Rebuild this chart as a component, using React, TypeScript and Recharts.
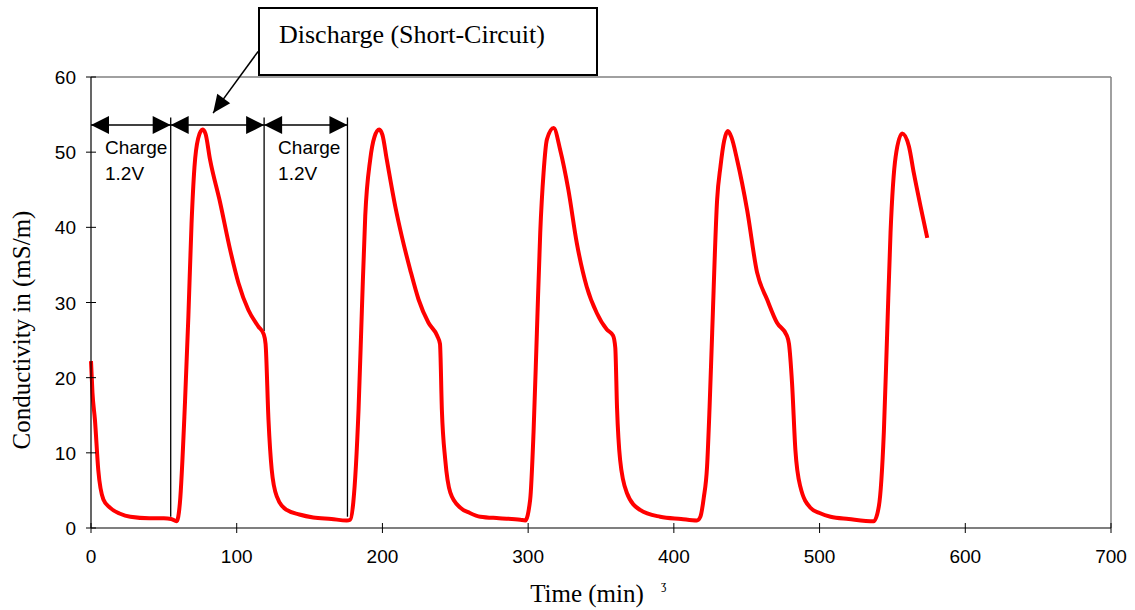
import React from "react";
import { ComposedChart, Line, XAxis, YAxis, ReferenceLine } from "recharts";

// ---- data (time in minutes, conductivity in mS/m) ----
const timeMin: number[] = [
  0, 1, 2.7, 5, 8.5, 13, 20, 27, 40, 50, 55, 58.8, 61, 64.5, 66.8, 69, 71, 73.5, 76.5, 78.5,
  81.7, 88.6, 95.5, 101.2, 108, 114.9, 118.5, 119.8, 121.8, 124, 127.5, 134.3, 143, 152.5, 165, 175.5,
  177.9, 180, 183.6, 185.9, 188.2, 191.6, 194.5, 197.8, 200, 203, 208.8, 213.3, 219, 224.8, 231.6,
  237.5, 239.5, 240.8, 243.1, 246.6, 253.4, 260, 267.2, 280, 294.6, 298, 301.4, 303.7, 306, 308.3,
  310.6, 312.9, 317.5, 322, 327.6, 333.4, 340.2, 347.1, 354, 358.3, 359.8, 361, 363.1, 367.7, 376.8,
  390.6, 405, 415.8, 418.2, 420.5, 422.8, 424.5, 426.3, 429.7, 432, 434.5, 437, 439.5, 443.4, 450.3,
  457.1, 464, 470.8, 477.5, 479, 481.1, 483.4, 486.8, 493.7, 500, 507.5, 520, 537.2, 540.7, 544.1,
  546.4, 548.7, 552.2, 556.7, 561.3, 564.7, 569.3, 573.9,
];
const conductivity: number[] = [
  22.2, 18, 14.4, 7.7, 3.8, 2.7, 1.9, 1.5, 1.3, 1.3, 1.2, 0.9, 3.3, 16.7, 28, 40.5, 48, 51.8, 53, 52.5,
  49, 43.3, 37, 32.6, 29, 26.8, 25.8, 24.5, 14.4, 7.8, 4.2, 2.4, 1.8, 1.4, 1.2, 1.0,
  1.1, 3.4, 15.7, 29, 41.5, 49, 52, 53, 52.3, 49, 42.8, 38.8, 34.4, 30.4, 27.3,
  25.6, 24.5, 15.7, 9.1, 4.7, 2.7, 2.0, 1.5, 1.3, 1.1, 1.0, 3.8, 12.7, 26, 39.3,
  47.3, 51.7, 53.2, 50.3, 45, 37.9, 32.1, 28.6, 26.4, 25.6, 24, 16, 9.1, 4.7, 2.4,
  1.5, 1.2, 1.0, 1.5, 4, 8.2, 16, 26, 43.7, 48.1, 51.5, 52.8, 52, 49, 42.3,
  34, 30.4, 27.3, 25.6, 24.5, 19.3, 10.4, 5.5, 2.7, 2.0, 1.5, 1.2, 0.9, 2.9, 12.7,
  26, 39.3, 49.4, 52.5, 50.8, 47.2, 42.8, 38.6,
];

const xTicks: number[] = [0, 100, 200, 300, 400, 500, 600, 700];
const yTicks: number[] = [0, 10, 20, 30, 40, 50, 60];

// annotation values (in data units)
const phaseBounds: number[] = [0, 54.7, 118.8, 176];
const phaseArrowLevel = 53.6;
const phaseLineTop = 54.6;
const phaseLineBottoms: number[] = [1.5, 26.2, 1.5];
const phaseLabels: string[][] = [["Charge", "1.2V"], [], ["Charge", "1.2V"]];
const calloutFrom = { t: 114.7, v: 63.4 };
const calloutTo = { t: 83.8, v: 55.2 };
const calloutText = "Discharge (Short-Circuit)";

const rows = timeMin.map((t, i) => ({ t, c: conductivity[i] }));

const SANS = "'Liberation Sans', Arial, Helvetica, sans-serif";
const SERIF = "'Liberation Serif', 'Times New Roman', Times, serif";

function head(tx: number, ty: number, fx: number, fy: number, L = 18, w = 9) {
  const dx = fx - tx;
  const dy = fy - ty;
  const d = Math.sqrt(dx * dx + dy * dy) || 1;
  const ux = dx / d;
  const uy = dy / d;
  const bx = tx + ux * L;
  const by = ty + uy * L;
  const nx = -uy;
  const ny = ux;
  return `${tx},${ty} ${bx + nx * w},${by + ny * w} ${bx - nx * w},${by - ny * w}`;
}

const XTick = (props: any) => {
  const { x, y, payload } = props;
  return (
    <g>
      <line x1={x} x2={x} y1={y - 5} y2={y + 5} stroke="#000" strokeWidth={1} />
      <text x={x} y={y + 35} textAnchor="middle" fontFamily={SANS} fontSize={19} fill="#000">
        {payload.value}
      </text>
    </g>
  );
};

const YTick = (props: any) => {
  const { x, y, payload } = props;
  return (
    <g>
      <line x1={x - 5} x2={x + 5} y1={y} y2={y} stroke="#000" strokeWidth={1} />
      <text x={x - 15} y={y + 7} textAnchor="end" fontFamily={SANS} fontSize={19} fill="#000">
        {payload.value}
      </text>
    </g>
  );
};

export default function App() {
  return (
    <div style={{ position: "absolute", left: 0, top: 0, width: 1135, height: 610, background: "#fff" }}>
      <ComposedChart
        width={1135}
        height={610}
        data={rows}
        margin={{ top: 77, right: 24, bottom: 52, left: 51 }}
      >
        <XAxis
          dataKey="t"
          type="number"
          domain={[0, 700]}
          ticks={xTicks}
          interval={0}
          tickSize={0}
          tickMargin={0}
          tickLine={false}
          axisLine={{ stroke: "#000", strokeWidth: 1.2 }}
          tick={<XTick />}
          height={30}
          label={(p: any) => {
            const vb = p.viewBox;
            return (
              <text x={vb.x + vb.width / 2 - 14} y={602} textAnchor="middle" fontFamily={SERIF} fontSize={25} fill="#000">
                Time (min)
              </text>
            );
          }}
        />
        <YAxis
          type="number"
          domain={[0, 60]}
          ticks={yTicks}
          interval={0}
          tickSize={0}
          tickMargin={0}
          tickLine={false}
          axisLine={{ stroke: "#000", strokeWidth: 1.2 }}
          tick={<YTick />}
          width={40}
          label={() => (
            <text
              x={0}
              y={0}
              transform="translate(30,330) rotate(-90)"
              textAnchor="middle"
              fontFamily={SERIF}
              fontSize={25}
              fill="#000"
            >
              Conductivity in (mS/m)
            </text>
          )}
        />
        <ReferenceLine y={60} stroke="#808080" strokeWidth={1.5} />
        <ReferenceLine x={700} stroke="#808080" strokeWidth={1.5} />

        {phaseBounds.slice(1).map((b, i) => (
          <ReferenceLine
            key={"v" + i}
            segment={[
              { x: b, y: phaseLineTop },
              { x: b, y: phaseLineBottoms[i] },
            ]}
            stroke="#000"
            strokeWidth={1.3}
            ifOverflow="visible"
          />
        ))}

        {phaseBounds.slice(1).map((b, i) => (
          <ReferenceLine
            key={"a" + i}
            segment={[
              { x: phaseBounds[i], y: phaseArrowLevel },
              { x: b, y: phaseArrowLevel },
            ]}
            ifOverflow="visible"
            shape={(p: any) => {
              const { x1, y1, x2, y2 } = p;
              const lbl = phaseLabels[i];
              return (
                <g>
                  <line x1={x1} y1={y1} x2={x2} y2={y2} stroke="#000" strokeWidth={1.5} />
                  <polygon points={head(x1, y1, x2, y2)} fill="#000" />
                  <polygon points={head(x2, y2, x1, y1)} fill="#000" />
                  {lbl.length > 0 && (
                    <text x={x1 + 14} y={y1 + 29} fontFamily={SANS} fontSize={19} fill="#000">
                      {lbl[0]}
                    </text>
                  )}
                  {lbl.length > 1 && (
                    <text x={x1 + 14} y={y1 + 55} fontFamily={SANS} fontSize={19} fill="#000">
                      {lbl[1]}
                    </text>
                  )}
                </g>
              );
            }}
          />
        ))}

        <ReferenceLine
          segment={[
            { x: calloutFrom.t, y: calloutFrom.v },
            { x: calloutTo.t, y: calloutTo.v },
          ]}
          ifOverflow="visible"
          shape={(p: any) => {
            const { x1, y1, x2, y2 } = p;
            return (
              <g>
                <line x1={x1} y1={y1} x2={x2} y2={y2} stroke="#000" strokeWidth={1.5} />
                <polygon points={head(x2, y2, x1, y1, 18, 8)} fill="#000" />
              </g>
            );
          }}
        />

        <Line
          type="monotone"
          dataKey="c"
          stroke="#ff0000"
          strokeWidth={4}
          dot={false}
          activeDot={false}
          isAnimationActive={false}
        />
      </ComposedChart>

      <div
        style={{
          position: "absolute",
          left: 258,
          top: 7,
          width: 336,
          height: 65,
          border: "2px solid #000",
          background: "#fff",
          boxSizing: "content-box",
        }}
      >
        <span
          style={{
            position: "absolute",
            left: 19,
            top: 11,
            fontFamily: SERIF,
            fontSize: 26,
            lineHeight: "30px",
            whiteSpace: "nowrap",
            color: "#000",
          }}
        >
          {calloutText}
        </span>
      </div>
      <div
        style={{
          position: "absolute",
          left: 661,
          top: 578,
          fontFamily: SERIF,
          fontSize: 12,
          color: "#000",
        }}
      >
        ʒ
      </div>
    </div>
  );
}
